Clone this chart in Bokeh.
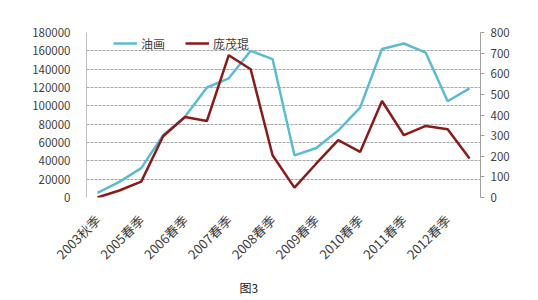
import math
from bokeh.plotting import figure
from bokeh.models import (Range1d, LinearAxis, FixedTicker, Legend, LegendItem,
                          Title, ColumnDataSource, NumeralTickFormatter)
from bokeh.embed import file_html
from bokeh.resources import INLINE

categories = ["2003秋季", "2004秋季", "2005春季", "2005秋季", "2006春季", "2006秋季",
              "2007春季", "2007秋季", "2008春季", "2008秋季", "2009春季", "2009秋季",
              "2010春季", "2010秋季", "2011春季", "2011秋季", "2012春季", "2012秋季"]
oil_painting = [5000, 17000, 32000, 68000, 88000, 120000, 130000, 160000, 151000,
                46000, 54000, 73000, 98000, 162000, 168000, 158000, 105000, 119000]
pang_maokun = [0, 34, 77, 297, 390, 371, 690, 622, 205, 48, 165, 278,
               221, 468, 302, 347, 331, 189]
left_ticks = list(range(0, 180001, 20000))
right_ticks = list(range(0, 801, 100))

FONT = "Noto Sans CJK SC"
TXT = "#404040"
TEAL = "#5bbcd0"
RED = "#8b1a1a"

idx = list(range(len(categories)))
src = ColumnDataSource(dict(x=idx, oil=oil_painting, pang=pang_maokun))

p = figure(width=538, height=300, output_backend="svg", toolbar_location=None,
           x_range=Range1d(-0.5, len(categories) - 0.5),
           y_range=Range1d(0, 180000),
           min_border_left=86, min_border_right=58,
           min_border_top=32, min_border_bottom=102)
p.extra_y_ranges = {"r": Range1d(0, 800)}
p.outline_line_color = None
p.background_fill_color = "white"
p.border_fill_color = "white"

# axes
p.xaxis.ticker = FixedTicker(ticks=idx[::2])
p.xaxis.major_label_overrides = {i: categories[i] for i in idx[::2]}
p.xaxis.major_label_orientation = math.pi / 4
p.xaxis.axis_line_color = None
p.xaxis.major_tick_line_color = None
p.xaxis.minor_tick_line_color = None
p.xaxis.major_label_standoff = 14
p.xaxis.major_label_text_font = FONT
p.xaxis.major_label_text_font_size = "13px"
p.xaxis.major_label_text_color = TXT

p.yaxis.ticker = FixedTicker(ticks=left_ticks)
p.yaxis.formatter = NumeralTickFormatter(format="0")
p.yaxis.axis_line_color = "#c0c0c0"
p.yaxis.major_tick_line_color = None
p.yaxis.minor_tick_line_color = None
p.yaxis.major_label_standoff = 10
p.yaxis.major_label_text_font = FONT
p.yaxis.major_label_text_font_size = "11.5px"
p.yaxis.major_label_text_color = TXT

ry = LinearAxis(y_range_name="r", ticker=FixedTicker(ticks=right_ticks),
                formatter=NumeralTickFormatter(format="0"))
ry.axis_line_color = "#a0a0a0"
ry.major_tick_line_color = "#a0a0a0"
ry.major_tick_in = 0
ry.major_tick_out = 4
ry.minor_tick_line_color = None
ry.major_label_standoff = 6
ry.major_label_text_font = FONT
ry.major_label_text_font_size = "11.5px"
ry.major_label_text_color = TXT
p.add_layout(ry, "right")

p.xgrid.grid_line_color = None
p.ygrid.ticker = FixedTicker(ticks=left_ticks)
p.ygrid.grid_line_color = "#a6a6a6"
p.ygrid.grid_line_dash = "3 1"
p.ygrid.grid_line_width = 1

r1 = p.line("x", "oil", source=src, line_color=TEAL, line_width=2.5)
r2 = p.line("x", "pang", source=src, y_range_name="r", line_color=RED, line_width=2.5)

legend = Legend(items=[LegendItem(label="油画", renderers=[r1]),
                       LegendItem(label="庞茂琨", renderers=[r2])],
                orientation="horizontal", location=(27, 145),
                glyph_width=24, glyph_height=18, label_height=18,
                label_standoff=4, spacing=20,
                padding=0, margin=0, background_fill_alpha=0,
                border_line_color=None,
                label_text_font=FONT, label_text_font_size="12px",
                label_text_color=TXT)
p.add_layout(legend, "center")

# caption
p.add_layout(Title(text="图3", align="left", offset=153, standoff=9,
                   text_font=FONT, text_font_size="12px", text_font_style="normal",
                   text_color="#222222"), "below")

open("out.html", "w").write(file_html(p, INLINE))
